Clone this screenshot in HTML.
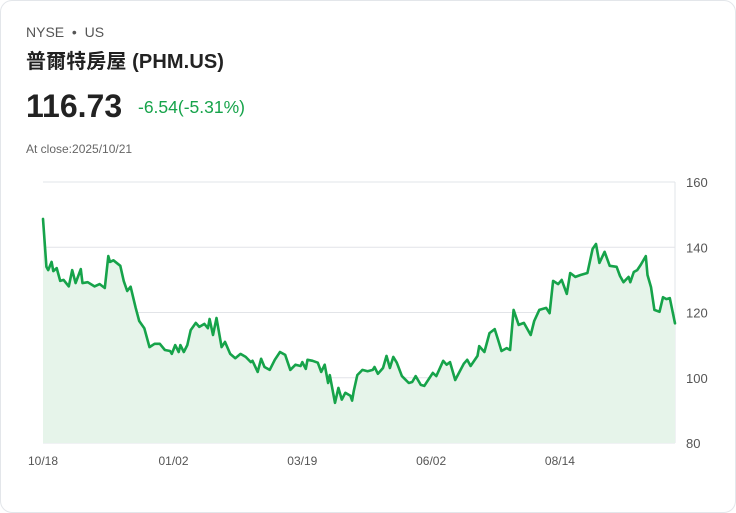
<!DOCTYPE html>
<html><head><meta charset="utf-8">
<style>
body{margin:0;background:#fff;font-family:"Liberation Sans","Noto Sans CJK TC",sans-serif;}
.card{position:absolute;left:0;top:0;width:734px;height:511px;border:1px solid #e3e6ea;border-radius:12px;background:#fff;}
.ex{position:absolute;left:25px;top:23px;font-size:14px;color:#555;}
.nm{position:absolute;left:25px;top:44px;font-size:20px;font-weight:bold;color:#222;letter-spacing:0.1px;}
.px{position:absolute;left:25px;top:87px;font-size:32px;font-weight:bold;color:#222;}
.ch{position:absolute;left:137px;top:96px;font-size:17.5px;color:#16a34a;}
.cl{position:absolute;left:25px;top:141px;font-size:12px;color:#666;}
svg{position:absolute;left:0;top:0;}
</style></head><body>
<div class="card">
<div class="ex">NYSE &nbsp;•&nbsp; US</div>
<div class="nm">普爾特房屋 (PHM.US)</div>
<div class="px">116.73</div>
<div class="ch">-6.54(-5.31%)</div>
<div class="cl">At close:2025/10/21</div>
</div>
<svg id="chart" width="736" height="513"></svg>
<script>
const days=[0,2,3,5,6,8,10,12,15,17,19,22,23,26,30,33,36,38,39,41,45,47,49,51,54,56,59,62,65,68,71,74,75,77,79,80,82,84,86,89,91,94,96,97,99,101,104,106,109,112,115,118,121,122,125,127,129,132,135,138,141,144,147,150,151,153,154,157,160,162,164,166,167,170,172,174,176,179,180,181,183,186,189,192,193,195,198,200,202,204,206,209,213,215,217,220,222,227,229,233,235,237,240,245,247,249,253,254,257,260,263,265,267,270,272,274,277,280,284,286,289,293,295,297,300,302,305,307,310,313,317,320,322,324,327,330,334,336,338,341,342,344,346,348,351,352,354,356,359,361,363,365,368];
const prices=[148.7,134,133,135.5,132.7,133.6,129.7,130,128,133,129,133.3,129,129.3,128,128.7,127.5,137.3,135.5,136,134.3,129.7,126.6,127.9,121.4,117.4,115.2,109.4,110.4,110.4,108.5,108.2,107.3,110,107.9,110,107.9,110,114.6,116.8,115.6,116.5,115.2,118,113.1,118.3,109.4,111,107.3,106,107.3,106.4,104.8,105.2,101.8,105.8,103.3,102.4,105.5,107.9,107,102.4,104,103.6,104.8,102.7,105.5,105.2,104.6,101.8,104,98.4,100.8,92.3,96.9,93.3,95.4,94.5,93,96,100.8,102.4,102,102.4,103.3,101.2,103,106.7,103,106.4,104.6,100.5,98.4,98.7,100.5,97.8,97.5,101.5,100.5,105.2,104,104.8,99.3,104.3,105.5,103.6,106.7,109.7,107.9,113.7,114.9,111.6,108.2,109.1,108.5,120.8,116.2,116.8,113.1,117.4,120.8,121.4,119.8,129.7,128.7,130,125.7,132.1,130.9,131.5,132.1,139.5,141,135.2,138.6,134.3,134,131.2,129.3,130.9,129.3,132.4,133,134.6,137.3,131.5,127.8,120.8,120.2,124.7,124.1,124.4,116.7];
const yTicks=[80,100,120,140,160];
const xLabels=["10/18","01/02","03/19","06/02","08/14"];
const xLabelDays=[0,76,151,226,301];
const X0=43,X1=675,Y0=443,Y1=182,DMAX=368;
const sx=d=>X0+(d/DMAX)*(X1-X0);
const sy=v=>Y0-(v-80)/80*(Y0-Y1);
const svg=document.getElementById('chart');
const NS='http://www.w3.org/2000/svg';
function mk(t,a){const e=document.createElementNS(NS,t);for(const k in a)e.setAttribute(k,a[k]);svg.appendChild(e);return e;}
yTicks.forEach(v=>{
 const l=mk('line',{x1:X0,x2:X1,y1:sy(v),y2:sy(v),stroke:'#e2e4e8','stroke-width':1});
 
 
 const t=mk('text',{x:686,y:sy(v)+5,'font-size':13,fill:'#555','font-family':'Liberation Sans, sans-serif'});
 t.textContent=v;
 
 
});
const ax=mk('line',{x1:X1,x2:X1,y1:Y1,y2:Y0,stroke:'#e2e4e8'});


xLabels.forEach((s,i)=>{
 const t=mk('text',{x:sx(xLabelDays[i]),y:465,'font-size':12,fill:'#555','text-anchor':'middle','font-family':'Liberation Sans, sans-serif'});
 t.textContent=s;
 
 
});
let d='';days.forEach((dd,i)=>{d+=(i?'L':'M')+sx(dd).toFixed(1)+','+sy(prices[i]).toFixed(1);});
const area=mk('path',{d:d+'L'+sx(days[days.length-1])+','+Y0+'L'+sx(0)+','+Y0+'Z',fill:'#e6f4ea'});


const line=mk('path',{d:d,fill:'none',stroke:'#16a34a','stroke-width':2.6,'stroke-linejoin':'round','stroke-linecap':'round'});


</script>
</body></html>
